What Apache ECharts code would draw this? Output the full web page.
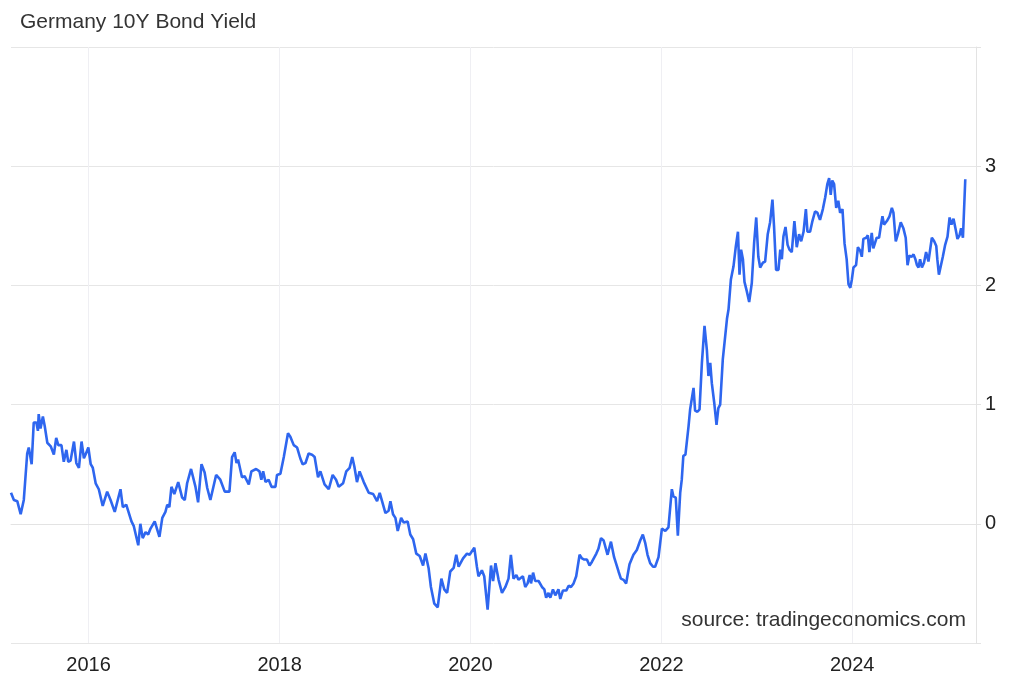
<!DOCTYPE html>
<html>
<head>
<meta charset="utf-8">
<script src="https://cdn.jsdelivr.net/npm/echarts@6/dist/echarts.min.js"></script>
<style>
html,body{margin:0;padding:0;background:#fff;}
#chart{width:1015px;height:683px;}
</style>
</head>
<body>
<div id="chart"></div>
<script>
const titleText = 'Germany 10Y Bond Yield';
const sourceText = 'source: tradingeconomics.com';
const yearTicks = [2016, 2018, 2020, 2022, 2024];
const yTicks = [0, 1, 2, 3];
const axisStart = '2015-03-10';
const axisEnd = '2025-04-19';

const dates = [
'2015-03-10','2015-03-21','2015-04-03','2015-04-16','2015-04-28','2015-05-11','2015-05-17','2015-05-28','2015-06-05','2015-06-15',
'2015-06-21','2015-06-24','2015-07-01','2015-07-10','2015-07-17','2015-07-27','2015-08-09','2015-08-15','2015-08-21','2015-08-30',
'2015-09-07','2015-09-19','2015-09-28','2015-10-08','2015-10-15','2015-10-24','2015-11-06','2015-11-15','2015-11-25','2015-12-05',
'2015-12-14','2015-12-20','2015-12-31','2016-01-09','2016-01-17','2016-01-28','2016-02-09','2016-02-24','2016-03-12','2016-03-25',
'2016-04-10','2016-05-02','2016-05-11','2016-05-24','2016-06-13','2016-06-22','2016-07-09','2016-07-17','2016-07-26','2016-08-06',
'2016-08-16','2016-08-25','2016-09-10','2016-09-28','2016-10-09','2016-10-21','2016-10-28','2016-11-05','2016-11-13','2016-11-24',
'2016-12-09','2016-12-24','2017-01-03','2017-01-12','2017-01-27','2017-02-13','2017-02-23','2017-03-08','2017-03-20','2017-03-30',
'2017-04-11','2017-05-03','2017-05-19','2017-06-05','2017-06-23','2017-07-03','2017-07-13','2017-07-20','2017-07-26','2017-08-10',
'2017-08-20','2017-09-05','2017-09-15','2017-10-03','2017-10-16','2017-10-23','2017-10-30','2017-11-08','2017-11-20','2017-12-01',
'2017-12-16','2017-12-22','2018-01-04','2018-01-17','2018-02-02','2018-02-11','2018-02-24','2018-03-09','2018-03-21','2018-03-30',
'2018-04-10','2018-04-22','2018-05-05','2018-05-15','2018-05-28','2018-06-06','2018-06-22','2018-07-08','2018-07-23','2018-08-05',
'2018-08-15','2018-09-01','2018-09-13','2018-09-26','2018-10-06','2018-10-14','2018-10-24','2018-11-03','2018-11-19','2018-12-08',
'2018-12-25','2019-01-09','2019-01-19','2019-01-28','2019-02-10','2019-02-22','2019-03-01','2019-03-11','2019-03-20','2019-03-29',
'2019-04-11','2019-04-21','2019-05-06','2019-05-16','2019-05-27','2019-06-08','2019-06-21','2019-07-04','2019-07-13','2019-07-25',
'2019-08-03','2019-08-16','2019-08-29','2019-09-12','2019-09-23','2019-10-04','2019-10-16','2019-10-29','2019-11-08','2019-11-17',
'2019-12-04','2019-12-19','2019-12-29','2020-01-16','2020-01-26','2020-02-01','2020-02-14','2020-02-23','2020-03-07','2020-03-20',
'2020-03-28','2020-04-06','2020-04-18','2020-05-01','2020-05-14','2020-05-26','2020-06-04','2020-06-14','2020-06-25','2020-07-03',
'2020-07-20','2020-07-29','2020-08-07','2020-08-15','2020-08-20','2020-08-28','2020-09-05','2020-09-18','2020-10-01','2020-10-10',
'2020-10-17','2020-10-26','2020-11-02','2020-11-12','2020-11-21','2020-12-03','2020-12-10','2020-12-20','2021-01-02','2021-01-11',
'2021-01-20','2021-01-30','2021-02-09','2021-02-22','2021-03-03','2021-03-12','2021-03-22','2021-04-01','2021-04-10','2021-04-27',
'2021-05-05','2021-05-15','2021-05-25','2021-06-09','2021-06-22','2021-07-04','2021-07-21','2021-07-30','2021-08-09','2021-08-19',
'2021-09-01','2021-09-16','2021-09-29','2021-10-12','2021-10-22','2021-10-31','2021-11-09','2021-11-19','2021-11-30','2021-12-08',
'2021-12-15','2021-12-21','2022-01-03','2022-01-16','2022-01-28','2022-02-10','2022-02-16','2022-02-25','2022-03-05','2022-03-14',
'2022-03-20','2022-03-26','2022-04-03','2022-04-15','2022-04-21','2022-04-28','2022-05-04','2022-05-10','2022-05-19','2022-05-27',
'2022-06-05','2022-06-15','2022-06-24','2022-06-30','2022-07-07','2022-07-13','2022-07-22','2022-07-31','2022-08-07','2022-08-14',
'2022-08-24','2022-09-02','2022-09-09','2022-09-15','2022-09-24','2022-10-04','2022-10-13','2022-10-21','2022-10-27','2022-11-02',
'2022-11-09','2022-11-15','2022-11-24','2022-12-03','2022-12-13','2022-12-22','2022-12-30','2023-01-07','2023-01-14','2023-01-24',
'2023-02-02','2023-02-12','2023-02-21','2023-03-02','2023-03-08','2023-03-16','2023-03-25','2023-04-01','2023-04-07','2023-04-13',
'2023-04-21','2023-04-29','2023-05-06','2023-05-15','2023-05-25','2023-06-03','2023-06-12','2023-06-20','2023-06-29','2023-07-08',
'2023-07-14','2023-07-24','2023-08-02','2023-08-12','2023-08-21','2023-08-31','2023-09-11','2023-09-20','2023-09-28','2023-10-05',
'2023-10-11','2023-10-17','2023-10-24','2023-11-01','2023-11-09','2023-11-16','2023-11-25','2023-12-03','2023-12-11','2023-12-18',
'2023-12-25','2023-12-31','2024-01-06','2024-01-16','2024-01-23','2024-02-01','2024-02-07','2024-02-13','2024-02-24','2024-03-01',
'2024-03-07','2024-03-16','2024-03-22','2024-03-29','2024-04-04','2024-04-13','2024-04-20','2024-04-26','2024-05-02','2024-05-13',
'2024-05-23','2024-06-01','2024-06-07','2024-06-16','2024-06-24','2024-07-05','2024-07-15','2024-07-24','2024-07-31','2024-08-07',
'2024-08-16','2024-08-23','2024-08-30','2024-09-05','2024-09-11','2024-09-17','2024-09-24','2024-10-02','2024-10-10','2024-10-19',
'2024-11-01','2024-11-10','2024-11-18','2024-11-22','2024-11-28','2024-12-05','2024-12-13','2024-12-22','2024-12-31','2025-01-08',
'2025-01-15','2025-01-23','2025-02-01','2025-02-07','2025-02-15','2025-02-21','2025-02-28','2025-03-09'
];

const yields = [
0.26,0.20,0.19,0.08,0.20,0.59,0.64,0.50,0.85,0.85,
0.78,0.92,0.80,0.90,0.82,0.68,0.65,0.66,0.58,0.72,
0.66,0.66,0.52,0.62,0.52,0.53,0.69,0.51,0.47,0.69,
0.55,0.58,0.64,0.50,0.47,0.34,0.29,0.15,0.27,0.20,
0.10,0.29,0.14,0.16,0.02,-0.02,-0.18,0.00,-0.12,-0.07,
-0.09,-0.04,0.02,-0.11,0.05,0.10,0.16,0.14,0.31,0.25,
0.35,0.22,0.20,0.34,0.46,0.31,0.18,0.50,0.43,0.30,
0.20,0.41,0.37,0.27,0.27,0.56,0.60,0.51,0.54,0.39,
0.40,0.33,0.44,0.46,0.44,0.37,0.44,0.35,0.37,0.31,
0.31,0.41,0.42,0.56,0.76,0.73,0.66,0.64,0.55,0.50,
0.51,0.59,0.58,0.56,0.39,0.44,0.33,0.29,0.41,0.37,
0.31,0.34,0.44,0.47,0.56,0.48,0.35,0.44,0.35,0.26,
0.25,0.19,0.26,0.19,0.09,0.11,0.19,0.08,0.05,-0.06,
0.05,0.01,0.02,-0.09,-0.13,-0.25,-0.27,-0.35,-0.25,-0.37,
-0.53,-0.67,-0.70,-0.46,-0.55,-0.58,-0.40,-0.37,-0.26,-0.36,
-0.29,-0.25,-0.26,-0.20,-0.36,-0.44,-0.39,-0.44,-0.72,-0.35,
-0.48,-0.33,-0.47,-0.58,-0.53,-0.46,-0.26,-0.46,-0.43,-0.47,
-0.44,-0.53,-0.50,-0.43,-0.50,-0.41,-0.48,-0.48,-0.53,-0.55,
-0.62,-0.58,-0.62,-0.55,-0.60,-0.55,-0.63,-0.56,-0.56,-0.52,
-0.53,-0.50,-0.44,-0.26,-0.29,-0.30,-0.30,-0.35,-0.32,-0.25,
-0.21,-0.12,-0.14,-0.26,-0.15,-0.28,-0.40,-0.46,-0.47,-0.50,
-0.34,-0.26,-0.22,-0.14,-0.09,-0.16,-0.26,-0.33,-0.36,-0.36,
-0.37,-0.28,-0.04,-0.06,-0.03,0.29,0.23,0.22,-0.10,0.26,
0.37,0.57,0.58,0.82,0.96,0.95,1.14,0.95,0.94,0.96,
1.35,1.66,1.46,1.24,1.35,1.18,1.02,0.83,0.97,1.00,
1.38,1.57,1.72,1.80,2.05,2.16,2.33,2.45,2.09,2.30,
2.22,2.03,1.95,1.86,2.02,2.36,2.57,2.24,2.15,2.19,
2.20,2.43,2.53,2.72,2.50,2.13,2.13,2.30,2.22,2.41,
2.49,2.34,2.30,2.28,2.54,2.32,2.43,2.37,2.45,2.64,
2.45,2.45,2.54,2.62,2.61,2.55,2.64,2.74,2.85,2.90,
2.76,2.88,2.85,2.65,2.71,2.61,2.64,2.35,2.22,2.01,
1.98,2.05,2.15,2.17,2.32,2.29,2.24,2.39,2.40,2.42,
2.28,2.44,2.31,2.30,2.40,2.40,2.50,2.58,2.51,2.54,
2.58,2.65,2.61,2.37,2.43,2.53,2.48,2.40,2.17,2.25,
2.24,2.26,2.22,2.17,2.15,2.22,2.15,2.19,2.28,2.20,
2.40,2.37,2.33,2.22,2.09,2.10,2.24,2.34,2.41,2.57,
2.51,2.56,2.46,2.39,2.42,2.48,2.40,2.89
];

const FONT = '"Liberation Sans", Arial, Helvetica, sans-serif';
function toTime(s) {
  const p = s.split('-').map(Number);
  return Date.UTC(p[0], p[1] - 1, p[2]);
}
const seriesData = dates.map((d, i) => [toTime(d), yields[i]]);
const tickTimes = yearTicks.map(y => Date.UTC(y, 0, 1));

const chart = echarts.init(document.getElementById('chart'), null, {renderer: 'canvas'});
chart.setOption({
  animation: false,
  backgroundColor: '#ffffff',
  title: {
    text: titleText,
    left: 15, top: 7,
    textStyle: {fontFamily: FONT, fontSize: 21, fontWeight: 'normal', color: '#333333'}
  },
  grid: {left: 11, right: 39, top: 47, bottom: 40, containLabel: false},
  xAxis: {
    type: 'value',
    min: toTime(axisStart),
    max: toTime(axisEnd),
    axisLine: {show: true, lineStyle: {color: '#e3e3e3', width: 1}},
    axisTick: {show: false, customValues: tickTimes},
    axisLabel: {
      customValues: tickTimes,
      formatter: v => String(new Date(v).getUTCFullYear()),
      fontFamily: FONT, fontSize: 20, color: '#222222', margin: 12
    },
    splitLine: {show: true, lineStyle: {color: '#efeff3', width: 1}}
  },
  yAxis: {
    type: 'value',
    position: 'right',
    min: -1, max: 4, interval: 1,
    axisLine: {show: true, lineStyle: {color: '#e3e3e3', width: 1}},
    axisTick: {show: true, length: 5, lineStyle: {color: '#e3e3e3'}},
    axisLabel: {
      fontFamily: FONT, fontSize: 20, color: '#222222', margin: 9,
      verticalAlign: 'middle', lineHeight: 20, padding: [7, 0, 0, 0],
      formatter: v => (yTicks.indexOf(v) >= 0 ? String(v) : '')
    },
    splitLine: {show: true, lineStyle: {color: '#e6e6e6', width: 1}}
  },
  graphic: [{
    type: 'text',
    right: 49,
    top: 610,
    style: {text: sourceText, font: '21px ' + FONT, fill: '#333333'}
  }],
  series: [{
    type: 'line',
    data: seriesData,
    showSymbol: false,
    smooth: false,
    lineStyle: {color: '#2e66ef', width: 2.6},
    itemStyle: {color: '#2e66ef'},
    z: 5
  }]
});
</script>
</body>
</html>
